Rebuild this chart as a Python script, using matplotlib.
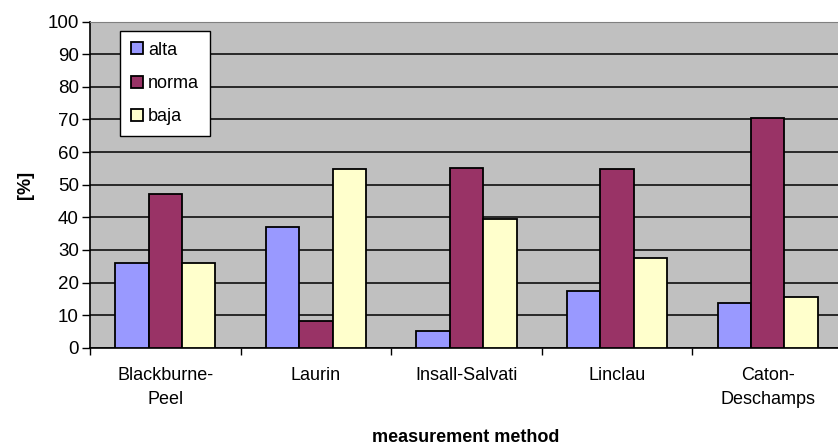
import numpy as np
import matplotlib.pyplot as plt
from matplotlib.ticker import FixedLocator, NullFormatter

plt.rcParams['font.family'] = ['Liberation Sans', 'DejaVu Sans']

methods = ["Blackburne-\nPeel", "Laurin", "Insall-Salvati", "Linclau", "Caton-\nDeschamps"]
alta = [26, 37, 5.2, 17.4, 13.6]
norma = [47.3, 8.2, 55, 54.8, 70.4]
baja = [26, 54.8, 39.5, 27.4, 15.7]

series = [("alta", alta, "#9999FF"), ("norma", norma, "#993366"), ("baja", baja, "#FFFFCC")]

fig = plt.figure(figsize=(8.38, 4.46), dpi=100)
ax = fig.add_axes([90 / 838, 98.3 / 446, 753 / 838, 326 / 446])
ax.set_facecolor("#C0C0C0")

x = np.arange(len(methods))
w = 0.222
for i, (name, vals, col) in enumerate(series):
    ax.bar(x + (i - 1) * w, vals, width=w, color=col, edgecolor="black",
           linewidth=1.3, label=name, zorder=3)

ax.set_xlim(-0.5, len(methods) - 0.5)
ax.set_ylim(0, 100)
ax.set_yticks(np.arange(0, 101, 10))
ax.yaxis.grid(True, color="black", linewidth=1.1, zorder=1)
ax.set_axisbelow(True)

ax.xaxis.set_major_locator(FixedLocator(np.arange(-0.5, len(methods), 1)))
ax.xaxis.set_major_formatter(NullFormatter())
ax.set_xticks(x, minor=True)
ax.set_xticklabels(methods, minor=True, fontsize=13, linespacing=1.5)
ax.tick_params(axis="x", which="minor", length=0, pad=14)
ax.tick_params(axis="x", which="major", length=5, width=1, direction="out")
ax.tick_params(axis="y", length=6, width=1, labelsize=13.5, pad=2)

ax.spines["top"].set_color("#808080")
ax.spines["right"].set_visible(False)
ax.spines["left"].set_linewidth(1.2)
ax.spines["bottom"].set_linewidth(1.2)

ax.set_ylabel("[%]", fontsize=13, fontweight="bold", labelpad=10)
ax.set_xlabel("measurement method", fontsize=13, fontweight="bold")
ax.xaxis.set_label_coords((466 - 90) / 753, -0.25)

leg = ax.legend(loc="upper left", bbox_to_anchor=(30 / 753, 0.972), fontsize=13,
                frameon=True, fancybox=False, edgecolor="black", facecolor="white",
                framealpha=1, handlelength=0.65, handleheight=0.65, handletextpad=0.3,
                labelspacing=0.9, borderpad=0.6, borderaxespad=0)
leg.get_frame().set_linewidth(1)
leg.set_zorder(5)

fig.savefig("out.png", dpi=100)
